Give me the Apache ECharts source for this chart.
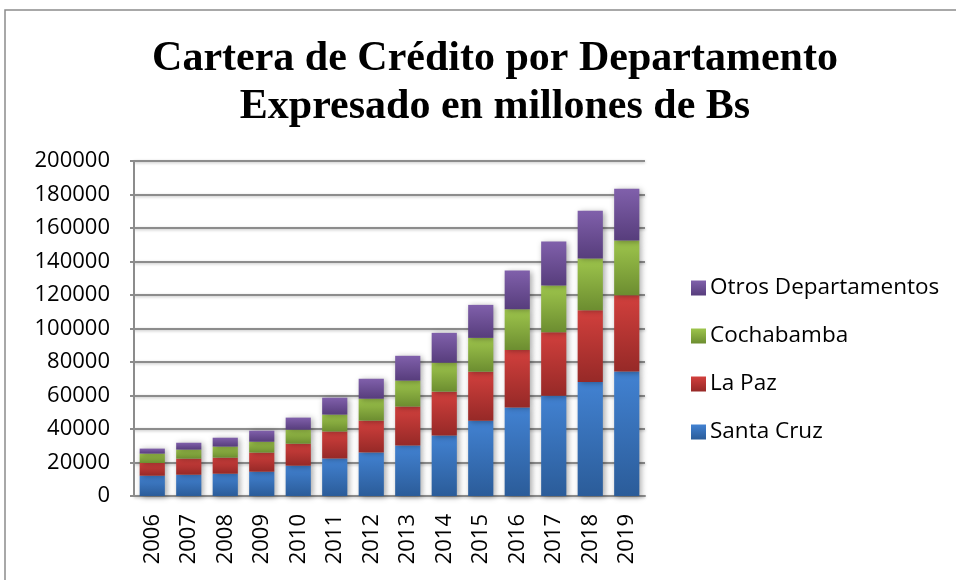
<!DOCTYPE html>
<html>
<head>
<meta charset="utf-8">
<script src="https://cdn.jsdelivr.net/npm/echarts@6/dist/echarts.min.js"></script>
<style>
html,body{margin:0;padding:0;background:#fff;}
#chart{width:956px;height:580px;}
</style>
</head>
<body>
<div id="chart"></div>
<script>
var years = ['2006','2007','2008','2009','2010','2011','2012','2013','2014','2015','2016','2017','2018','2019'];
var santaCruz = [12100, 12700, 13300, 14500, 18100, 22400, 26000, 30200, 36100, 45000, 52900, 59800, 68100, 74300];
var laPaz = [7600, 9600, 9600, 11400, 13100, 16100, 19000, 23200, 26200, 29200, 34200, 38000, 42800, 45500];
var cochabamba = [5600, 5400, 6600, 6500, 8400, 10100, 13100, 15500, 17300, 20200, 24400, 27900, 30900, 32700];
var otros = [3000, 4100, 5300, 6600, 7200, 10100, 11900, 14800, 17800, 19700, 23100, 26200, 28500, 30900];
var yTicks = [0, 20000, 40000, 60000, 80000, 100000, 120000, 140000, 160000, 180000, 200000];

function grad(top, bottom) {
  return new echarts.graphic.LinearGradient(0, 0, 0, 1, [
    {offset: 0, color: top}, {offset: 1, color: bottom}
  ]);
}
function mkSeries(name, data, top, bottom) {
  return {
    name: name, type: 'bar', stack: 'total', data: data,
    barCategoryGap: '31%',
    itemStyle: {
      color: grad(top, bottom),
      shadowColor: 'rgba(0,0,0,0.35)', shadowBlur: 6, shadowOffsetX: 2, shadowOffsetY: 1
    },
    emphasis: {disabled: true}
  };
}

var chart = echarts.init(document.getElementById('chart'), null, {renderer: 'canvas'});
var font = '"Open Sans", sans-serif';
chart.setOption({
  animation: false,
  backgroundColor: '#ffffff',
  title: {
    text: 'Cartera de Crédito por Departamento\nExpresado en millones de Bs',
    left: 490, top: 30, textAlign: 'center',
    textStyle: {fontFamily: '"Liberation Serif", "Times New Roman", serif', fontWeight: 'bold', fontSize: 42, lineHeight: 48, color: '#000'}
  },
  graphic: [{
    type: 'rect', shape: {x: 5, y: 10, width: 980, height: 620},
    style: {fill: 'none', stroke: '#8c8c8c', lineWidth: 1.5}, silent: true, z: -1
  }],
  legend: {
    orient: 'vertical', left: 686, top: 271,
    itemWidth: 15, itemHeight: 15, itemGap: 24,
    data: ['Otros Departamentos', 'Cochabamba', 'La Paz', 'Santa Cruz'],
    textStyle: {fontFamily: font, fontSize: 22.5, lineHeight: 24, color: '#000', padding: [0,0,0,-1]},
    icon: 'rect'
  },
  grid: {left: 134, right: 311, top: 161, bottom: 84, containLabel: false},
  xAxis: {
    type: 'category', data: years,
    axisLine: {lineStyle: {color: '#8c8c8c', width: 2}},
    axisTick: {show: false},
    axisLabel: {rotate: 90, margin: 18, fontFamily: font, fontSize: 22, color: '#000', interval: 0}
  },
  yAxis: {
    type: 'value', min: yTicks[0], max: yTicks[yTicks.length - 1], interval: yTicks[1] - yTicks[0],
    axisLine: {show: true, lineStyle: {color: '#8c8c8c', width: 2}},
    axisTick: {show: true, length: 4, lineStyle: {color: '#8c8c8c', width: 2}},
    splitLine: {lineStyle: {color: '#8c8c8c', width: 2, shadowColor: 'rgba(0,0,0,0.25)', shadowBlur: 3, shadowOffsetY: 1}},
    axisLabel: {margin: 24, fontFamily: font, fontSize: 22, color: '#000', formatter: function (v) { return String(v); }}
  },
  series: [
    mkSeries('Santa Cruz', santaCruz, '#4282d2', '#2b5c99'),
    mkSeries('La Paz', laPaz, '#d2403d', '#962927'),
    mkSeries('Cochabamba', cochabamba, '#9ec54c', '#6c8d30'),
    mkSeries('Otros Departamentos', otros, '#8060ab', '#573d7c')
  ]
});
</script>
</body>
</html>
